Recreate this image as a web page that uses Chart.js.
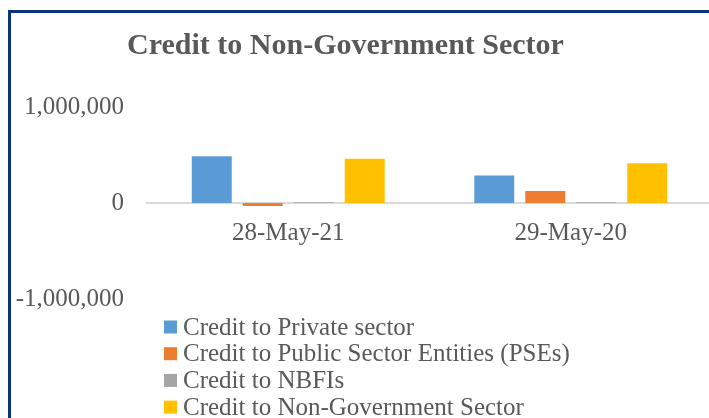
<!DOCTYPE html>
<html>
<head>
<meta charset="utf-8">
<script src="https://cdn.jsdelivr.net/npm/chart.js@4.4.1/dist/chart.umd.min.js"></script>
<style>
  html, body { margin: 0; padding: 0; background: #ffffff; }
  #wrap { position: relative; width: 709px; height: 418px; overflow: hidden; }
  #myChart { position: absolute; left: -21px; top: 0; }
  #frame {
    position: absolute; left: 8px; top: 10px; right: -10px; bottom: -10px;
    border-top: 3px solid #0c347c; border-left: 3px solid #0c347c;
    pointer-events: none;
  }
</style>
</head>
<body>
<div id="wrap">
  <canvas id="myChart" width="733" height="418"></canvas>
  <div id="frame"></div>
</div>
<script>
// data //
const dates = ['28-May-21', '29-May-20'];
const privateSector = [487000, 287000];
const publicSector = [-30000, 124000];
const nbfis = [8000, 8000];
const nonGovSector = [460000, 415000];
const yTicks = [-1000000, 0, 1000000];

const seriesNames = [
    'Credit to Private sector',
    'Credit to Public Sector Entities (PSEs)',
    'Credit to NBFIs',
    'Credit to Non-Government Sector'
];
const seriesColors = ['#5b9bd5', '#ed7d31', '#a5a5a5', '#ffc000'];

const textColor = '#595959';
const fontFamily = "'Liberation Serif', 'Times New Roman', serif";

// legend drawn as a single column under the plot //
const columnLegend = {
    id: 'columnLegend',
    afterDraw(chart) {
        const ctx = chart.ctx;
        ctx.save();
        ctx.font = '25px ' + fontFamily;
        ctx.textBaseline = 'middle';
        ctx.textAlign = 'left';
        chart.data.datasets.forEach(function (ds, i) {
            const y = 327 + i * 26.7;
            ctx.fillStyle = ds.backgroundColor;
            ctx.fillRect(185, y - 6.5, 13, 13);
            ctx.fillStyle = textColor;
            ctx.fillText(ds.label, 204, y + 1);
        });
        ctx.restore();
    }
};

const allSeries = [privateSector, publicSector, nbfis, nonGovSector];

const data = {
    labels: dates,
    datasets: allSeries.map(function (values, i) {
        return {
            label: seriesNames[i],
            data: values,
            backgroundColor: seriesColors[i],
            borderWidth: 0,
            categoryPercentage: 0.722,
            barPercentage: 0.784
        };
    })
};

const config = {
    type: 'bar',
    data: data,
    options: {
        responsive: false,
        animation: false,
        devicePixelRatio: 1,
        layout: {
            padding: { left: 0, right: 0, top: 0, bottom: 119 }
        },
        plugins: {
            legend: { display: false },
            tooltip: { enabled: false },
            title: {
                display: true,
                text: 'Credit to Non-Government Sector',
                color: textColor,
                font: { family: fontFamily, size: 30, weight: 'bold', lineHeight: 1.2 },
                padding: { top: 28, bottom: 43 }
            }
        },
        scales: {
            x: {
                position: { y: 0 },
                grid: { display: false },
                border: { display: true, color: '#d9d9d9', width: 2 },
                ticks: {
                    color: textColor,
                    padding: 7,
                    font: { family: fontFamily, size: 25 }
                }
            },
            y: {
                min: -1000000,
                max: 1000000,
                grid: { display: false },
                border: { display: false },
                afterFit: function (scale) { scale.width = 168; },
                afterBuildTicks: function (scale) {
                    scale.ticks = yTicks.map(function (v) { return { value: v }; });
                },
                ticks: {
                    color: textColor,
                    padding: 15,
                    font: { family: fontFamily, size: 25 },
                    callback: function (v) { return Number(v).toLocaleString('en-US'); }
                }
            }
        }
    },
    plugins: [columnLegend]
};

const myChart = new Chart(document.getElementById('myChart'), config);
</script>
</body>
</html>
